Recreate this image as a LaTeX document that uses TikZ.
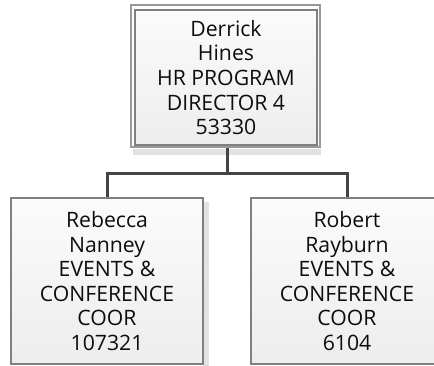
\documentclass[tikz,border=0pt]{standalone}
\usepackage{fontspec}
\setmainfont{Open Sans}
\usetikzlibrary{positioning}
\definecolor{boxline}{HTML}{7F7F7F}
\definecolor{conn}{HTML}{444444}
\definecolor{shadowc}{HTML}{E2E2E2}
\definecolor{filltop}{HTML}{FBFBFB}
\definecolor{fillbot}{HTML}{EDEDED}
\begin{document}
\begin{tikzpicture}[x=1pt,y=-1pt,
  boxstyle/.style={draw=boxline,line width=1.6pt,top color=filltop,bottom color=fillbot,
    rectangle,inner sep=0pt,align=center,text=black!95,
    font=\fontsize{21.2}{24.6}\selectfont},
  framestyle/.style={draw=boxline!80,line width=1.3pt,rectangle,inner sep=0pt},
  connstyle/.style={draw=conn,line width=3pt}]
\useasboundingbox (0,0) rectangle (434,366);
% shadows
\fill[shadowc] (133,149) rectangle (321,155);
\fill[shadowc] (203,202) rectangle (209,366);
\fill[shadowc] (443,202) rectangle (449,366);
% top frame
\node[framestyle,minimum width=189pt,minimum height=142pt] (topframe) at (225.5,76) {};
% top box
\node[boxstyle,minimum width=182pt,minimum height=135pt] (top) at (226,77.5)
  {Derrick\\Hines\\HR PROGRAM\\DIRECTOR 4\\53330};
% children
\node[boxstyle,minimum width=192pt,minimum height=166pt] (c1) at (107,281)
  {Rebecca\\Nanney\\EVENTS \&\\CONFERENCE\\COOR\\107321};
\node[boxstyle,minimum width=192pt,minimum height=166pt] (c2) at (347,281)
  {Robert\\Rayburn\\EVENTS \&\\CONFERENCE\\COOR\\6104};
% connectors
\coordinate (j) at (227,174);
\draw[connstyle] (topframe.south -| j) -- (j);
\draw[connstyle] (j) -| (c1.north);
\draw[connstyle] (j) -| (c2.north);
\end{tikzpicture}
\end{document}
